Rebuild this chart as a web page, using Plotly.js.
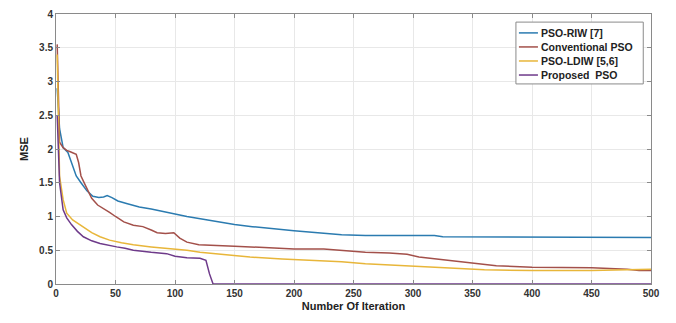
<!DOCTYPE html>
<html>
<head>
<meta charset="utf-8">
<script src="https://cdn.plot.ly/plotly-3.0.1.min.js"></script>
<style>html,body{margin:0;padding:0;background:#fff;}#chart{width:676px;height:323px;}</style>
</head>
<body>
<div id="chart"></div>
<script>
// Series
const rivIter = [1, 3, 6, 10, 13, 17, 21, 26, 31, 36, 40, 43, 47, 52, 60, 70, 80, 90, 100, 110, 120, 130, 140, 150, 165, 180, 200, 220, 240, 260, 280, 300, 318, 325, 350, 400, 450, 500];
const rivMSE  = [2.9, 2.3, 2.02, 1.95, 1.8, 1.6, 1.5, 1.38, 1.3, 1.28, 1.29, 1.31, 1.28, 1.23, 1.19, 1.14, 1.11, 1.07, 1.03, 1.0, 0.97, 0.94, 0.91, 0.88, 0.85, 0.82, 0.79, 0.76, 0.73, 0.72, 0.72, 0.72, 0.72, 0.70, 0.70, 0.69, 0.69, 0.69];

const convIter = [1, 3, 6, 9, 12, 15, 17, 19, 21, 25, 30, 35, 40, 45, 50, 57, 65, 73, 80, 85, 92, 99, 104, 110, 120, 130, 150, 175, 200, 225, 240, 250, 260, 280, 295, 305, 320, 340, 355, 370, 400, 450, 480, 490, 500];
const convMSE  = [3.55, 2.1, 2.02, 1.98, 1.96, 1.93, 1.92, 1.8, 1.6, 1.45, 1.27, 1.17, 1.12, 1.06, 1.0, 0.92, 0.87, 0.85, 0.8, 0.76, 0.75, 0.76, 0.68, 0.62, 0.58, 0.57, 0.56, 0.54, 0.52, 0.52, 0.50, 0.48, 0.47, 0.46, 0.44, 0.40, 0.37, 0.33, 0.30, 0.27, 0.25, 0.24, 0.22, 0.20, 0.20];

const ldiwIter = [1, 3, 6, 9, 14, 20, 25, 30, 37, 45, 55, 65, 80, 93, 110, 121, 140, 163, 190, 215, 240, 260, 280, 300, 330, 360, 400, 450, 500];
const ldiwMSE  = [3.4, 1.6, 1.25, 1.05, 0.95, 0.88, 0.82, 0.76, 0.7, 0.65, 0.61, 0.58, 0.55, 0.53, 0.5, 0.47, 0.44, 0.4, 0.37, 0.35, 0.33, 0.30, 0.28, 0.26, 0.23, 0.21, 0.20, 0.20, 0.22];

const propIter = [1, 3, 6, 9, 13, 18, 23, 30, 37, 44, 51, 58, 65, 80, 93, 100, 110, 121, 126, 129, 132, 140, 200, 300, 400, 500];
const propMSE  = [2.5, 1.5, 1.1, 0.98, 0.88, 0.78, 0.7, 0.64, 0.6, 0.57, 0.55, 0.53, 0.5, 0.47, 0.45, 0.41, 0.39, 0.38, 0.35, 0.15, 0.0, 0.0, 0.0, 0.0, 0.0, 0.0];

const seriesNames = ["PSO-RIW [7]", "Conventional PSO", "PSO-LDIW [5,6]", "Proposed  PSO"];
const xTicks = [0, 50, 100, 150, 200, 250, 300, 350, 400, 450, 500];
const yTicks = [0, 0.5, 1, 1.5, 2, 2.5, 3, 3.5, 4];
const yTickText = ["0", "0.5", "1", "1.5", "2", "2.5", "3", "3.5", "4"];

const colors = ["#2b7bb0", "#a3504a", "#e8b63a", "#6e3a8a"];
const xs = [rivIter, convIter, ldiwIter, propIter];
const ys = [rivMSE, convMSE, ldiwMSE, propMSE];

const FONT = "Liberation Sans, Arial, sans-serif";

const traces = seriesNames.map((n, i) => ({
  x: xs[i], y: ys[i], name: n, type: "scatter", mode: "lines",
  line: {color: colors[i], width: 1.5}, showlegend: false
}));

// Compact MATLAB-like legend box (paper coordinates of the plot area)
const LEG = {x0: 0.773, x1: 0.987, y0: 0.741, y1: 0.970, lineX0: 0.778, lineX1: 0.810, textX: 0.811, rowTop: 0.930, rowStep: 0.052};
const shapes = [{type: "rect", xref: "paper", yref: "paper", x0: LEG.x0, x1: LEG.x1, y0: LEG.y0, y1: LEG.y1,
  line: {color: "#8a8a8a", width: 1}, fillcolor: "#fff", layer: "above"}];
const annotations = [];
seriesNames.forEach((n, i) => {
  const yy = LEG.rowTop - i * LEG.rowStep;
  shapes.push({type: "line", xref: "paper", yref: "paper", x0: LEG.lineX0, x1: LEG.lineX1, y0: yy, y1: yy,
    line: {color: colors[i], width: 1.5}, layer: "above"});
  annotations.push({xref: "paper", yref: "paper", x: LEG.textX, y: yy, xanchor: "left", yanchor: "middle",
    text: n.replace(/ /g, "&nbsp;"), showarrow: false,
    font: {family: FONT, size: 10.5, color: "#222", weight: "bold"}});
});

const axisCommon = {
  showline: true, linecolor: "#8a8a8a", linewidth: 1, mirror: "ticks",
  ticks: "inside", ticklen: 4, tickcolor: "#8a8a8a",
  showgrid: true, gridcolor: "#e8e8e8", zeroline: false,
  tickfont: {family: FONT, size: 10, color: "#333", weight: "bold"}
};

const layout = {
  width: 676, height: 323,
  margin: {l: 56, r: 25, t: 14, b: 39},
  paper_bgcolor: "#fff", plot_bgcolor: "#fff",
  showlegend: false,
  shapes: shapes, annotations: annotations,
  xaxis: Object.assign({}, axisCommon, {
    range: [0, 500], tickvals: xTicks,
    title: {text: "Number Of Iteration", standoff: 4,
      font: {family: FONT, size: 11, color: "#222", weight: "bold"}}
  }),
  yaxis: Object.assign({}, axisCommon, {
    range: [0, 4], tickvals: yTicks, ticktext: yTickText,
    title: {text: "MSE", standoff: 8,
      font: {family: FONT, size: 11, color: "#222", weight: "bold"}}
  })
};

Plotly.newPlot("chart", traces, layout, {displayModeBar: false, staticPlot: true});
</script>
</body>
</html>
